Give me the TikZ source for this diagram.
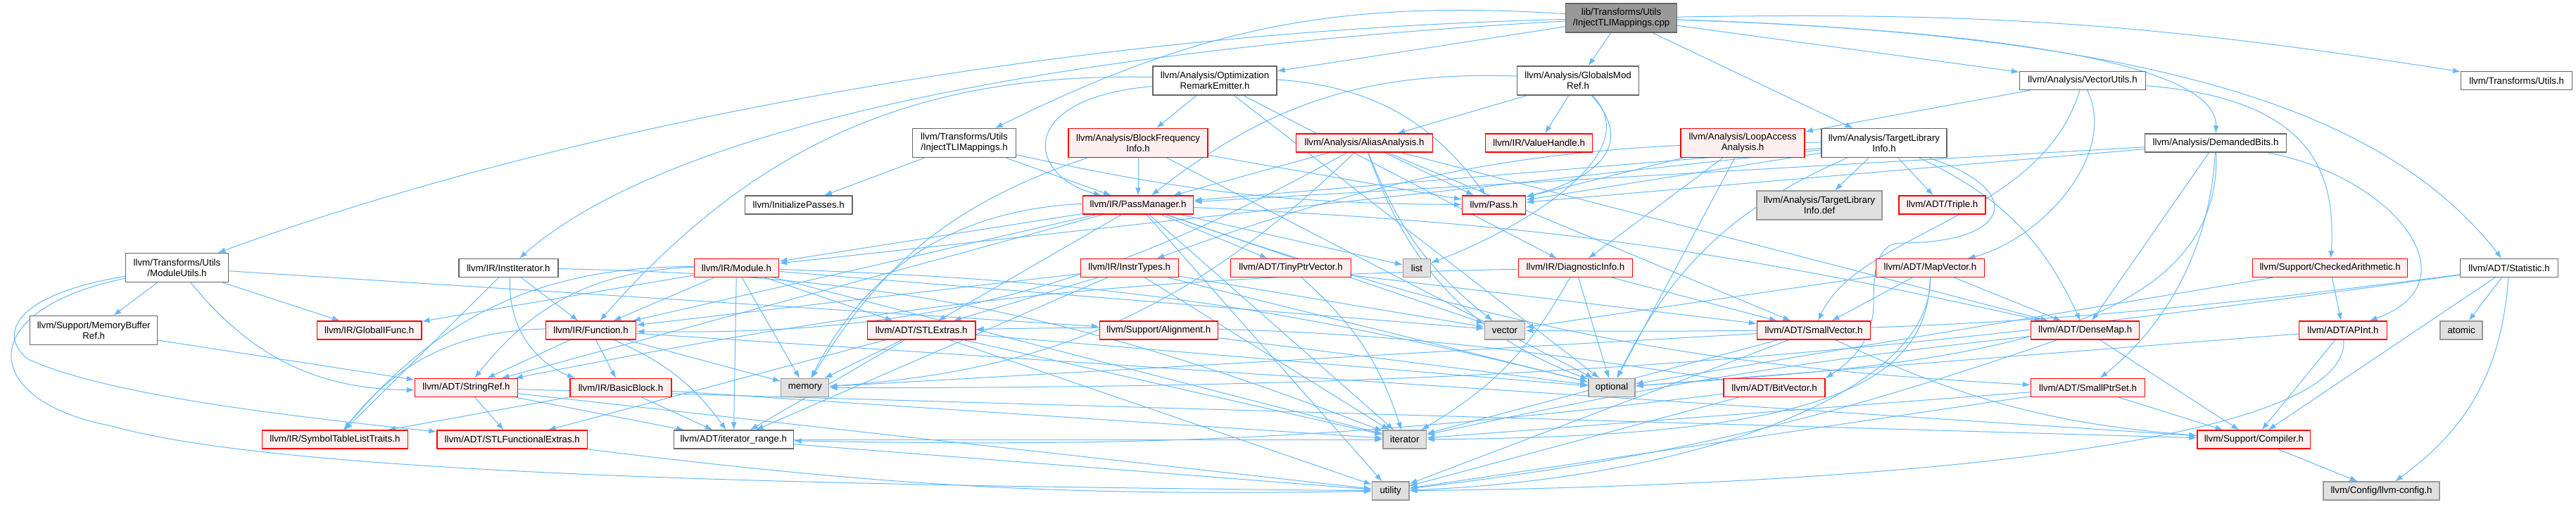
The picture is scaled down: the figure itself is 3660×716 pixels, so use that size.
\documentclass[tikz,border=0pt]{standalone}
\usepackage{fontspec}
\setmainfont{Liberation Sans}
\usetikzlibrary{arrows.meta}
\definecolor{DoxBlue}{RGB}{99,184,255}
\definecolor{DoxFrame}{RGB}{102,102,102}
\definecolor{DoxSysLine}{RGB}{153,153,153}
\definecolor{DoxSysFill}{RGB}{224,224,224}
\definecolor{DoxRedFill}{RGB}{255,240,240}
\definecolor{DoxRootFill}{RGB}{153,153,153}
\pgfdeclarelayer{bg}
\pgfsetlayers{bg,main}

\begin{document}
\begin{tikzpicture}[x=0.1pt,y=0.1pt,
  hdr/.style={draw=DoxFrame,fill=white,line width=0.12pt,inner sep=0pt,minimum height=2.6pt,
              align=center,font=\fontsize{1.33}{1.5}\selectfont},
  twoline/.style={minimum height=4.1pt},
  wd/.style={minimum width=#1*0.1pt},
  redhdr/.style={hdr,draw=red,fill=DoxRedFill},
  syshdr/.style={hdr,draw=DoxSysLine,fill=DoxSysFill},
  rootbox/.style={hdr,fill=DoxRootFill},
  dep/.style={-{Latex[length=1.1pt,width=0.8pt]},draw=DoxBlue,line width=0.1pt}
]
\useasboundingbox (0,0) rectangle (3660,-716);
% first rows
\node[rootbox,twoline,wd=157.5] (root) at (2303.5,-25.5) {lib/Transforms/Utils\\/InjectTLIMappings.cpp};
\node[hdr,twoline,wd=176] (ore) at (1726,-114.5) {llvm/Analysis/Optimization\\RemarkEmitter.h};
\node[hdr,twoline,wd=173] (gmr) at (2242,-114.5) {llvm/Analysis/GlobalsMod\\Ref.h};
\node[hdr,wd=179] (vutils) at (2959,-114.5) {llvm/Analysis/VectorUtils.h};
\node[hdr,wd=158] (tutils) at (3575.6,-114.5) {llvm/Transforms/Utils.h};
\node[hdr,twoline,wd=146.6] (injh) at (1370,-203) {llvm/Transforms/Utils\\/InjectTLIMappings.h};
\node[redhdr,twoline,wd=198] (bfi) at (1617,-203) {llvm/Analysis/BlockFrequency\\Info.h};
\node[redhdr,wd=194] (aa) at (1938.5,-203) {llvm/Analysis/AliasAnalysis.h};
\node[redhdr,wd=152] (vhandle) at (2186.6,-203) {llvm/IR/ValueHandle.h};
\node[redhdr,twoline,wd=176] (laa) at (2476,-203) {llvm/Analysis/LoopAccess\\Analysis.h};
\node[hdr,twoline,wd=178] (tli) at (2677,-203) {llvm/Analysis/TargetLibrary\\Info.h};
\node[hdr,wd=201] (dbits) at (3148,-203) {llvm/Analysis/DemandedBits.h};
\node[hdr,wd=152.5] (initp) at (1134.7,-291) {llvm/InitializePasses.h};
\node[redhdr,wd=157.5] (pm) at (1617,-291) {llvm/IR/PassManager.h};
\node[redhdr,wd=90] (pass) at (2122.5,-291) {llvm/Pass.h};
\node[syshdr,twoline,wd=178] (tlidef) at (2585,-291.5) {llvm/Analysis/TargetLibrary\\Info.def};
\node[redhdr,wd=123] (triple) at (2759.5,-291) {llvm/ADT/Triple.h};
% middle rows
\node[hdr,twoline,wd=146.6] (mutils) at (251.5,-380) {llvm/Transforms/Utils\\/ModuleUtils.h};
\node[hdr,wd=141] (institer) at (722.4,-380.5) {llvm/IR/InstIterator.h};
\node[redhdr,wd=120.6] (module) at (1046.4,-380.5) {llvm/IR/Module.h};
\node[redhdr,wd=139] (instr) at (1604.7,-380.5) {llvm/IR/InstrTypes.h};
\node[redhdr,wd=170.5] (tiny) at (1834,-380.5) {llvm/ADT/TinyPtrVector.h};
\node[syshdr,wd=39] (list) at (2013,-380.5) {list};
\node[redhdr,wd=162] (diag) at (2238.4,-380.5) {llvm/IR/DiagnosticInfo.h};
\node[redhdr,wd=153.6] (mapvec) at (2742.4,-380.5) {llvm/ADT/MapVector.h};
\node[redhdr,wd=220] (checked) at (3310.6,-380.5) {llvm/Support/CheckedArithmetic.h};
\node[hdr,wd=139] (stat) at (3565,-380.5) {llvm/ADT/Statistic.h};
\node[hdr,twoline,wd=181] (mbref) at (133.2,-469) {llvm/Support/MemoryBuffer\\Ref.h};
\node[redhdr,wd=148.6] (gifunc) at (524.7,-469) {llvm/IR/GlobalIFunc.h};
\node[redhdr,wd=128.4] (function) at (839.5,-469) {llvm/IR/Function.h};
\node[redhdr,wd=153.6] (stlextras) at (1309.2,-469) {llvm/ADT/STLExtras.h};
\node[redhdr,wd=168] (align) at (1646.3,-469) {llvm/Support/Alignment.h};
\node[syshdr,wd=57.5] (vector) at (2138,-469) {vector};
\node[redhdr,wd=161.4] (svector) at (2577,-469) {llvm/ADT/SmallVector.h};
\node[redhdr,wd=154.4] (densemap) at (2962.6,-469) {llvm/ADT/DenseMap.h};
\node[redhdr,wd=124.5] (apint) at (3328.9,-469) {llvm/ADT/APInt.h};
\node[syshdr,wd=60] (atomic) at (3497,-469) {atomic};
% bottom rows
\node[redhdr,wd=146] (stringref) at (662.5,-550.5) {llvm/ADT/StringRef.h};
\node[redhdr,wd=144] (bblock) at (882,-550.5) {llvm/IR/BasicBlock.h};
\node[syshdr,wd=68] (memory) at (1143.8,-550.5) {memory};
\node[syshdr,wd=66] (optional) at (2290,-550.5) {optional};
\node[redhdr,wd=144] (bitvec) at (2521,-550.5) {llvm/ADT/BitVector.h};
\node[redhdr,wd=162] (sptrset) at (2966.5,-550.5) {llvm/ADT/SmallPtrSet.h};
\node[redhdr,wd=207] (symtab) at (475.9,-624) {llvm/IR/SymbolTableListTraits.h};
\node[redhdr,wd=213.5] (stlfunc) at (727.7,-624) {llvm/ADT/STLFunctionalExtras.h};
\node[hdr,wd=170] (itrange) at (1042.3,-624) {llvm/ADT/iterator\_range.h};
\node[syshdr,wd=61.4] (iterator) at (1995.7,-624) {iterator};
\node[redhdr,wd=160.6] (compiler) at (3202.3,-624) {llvm/Support/Compiler.h};
\node[syshdr,wd=52.5] (utility) at (1975.7,-697) {utility};
\node[syshdr,wd=165] (llvmconfig) at (3383.5,-697) {llvm/Config/llvm-config.h};

\begin{pgfonlayer}{bg}
% includes, source/target/bend
\foreach \src/\dst/\bend in {
  root/injh/-15, root/ore/0, root/gmr/0, root/tli/0, root/vutils/0, root/tutils/5,
  injh/pm/0, injh/pass/-6, injh/initp/0,
  ore/bfi/0, ore/diag/0, ore/function/-25, ore/pass/25, ore/optional/0,
  bfi/pm/0, bfi/pass/0, bfi/memory/-20, bfi/optional/0,
  gmr/aa/0, gmr/pm/-20, gmr/vhandle/0,
  aa/densemap/0, aa/svector/0, aa/function/15, aa/pm/0, aa/pass/0, aa/memory/20, aa/optional/-25, aa/vector/-15,
  laa/diag/0, laa/pass/0, laa/optional/0,
  tli/tlidef/0, tli/triple/0, tli/densemap/20, tli/instr/-10, tli/module/0, tli/pm/0, tli/pass/0, tli/optional/-20,
  vutils/laa/0,
  dbits/densemap/0, dbits/pm/0, dbits/pass/0,
  stat/llvmconfig/25, stat/compiler/0, stat/atomic/0, stat/memory/4, stat/vector/4,
  institer/bblock/-35, institer/function/0, institer/symtab/0, institer/iterator/10,
  mutils/stringref/-25, mutils/gifunc/0, mutils/align/0, mutils/mbref/0,
  mbref/stringref/0,
  pm/densemap/5, pm/stlextras/0, pm/sptrset/-8, pm/stringref/0, pm/tiny/0, pm/function/0, pm/module/0,
  pm/iterator/0, pm/list/0, pm/memory/-30, pm/utility/0, pm/vector/0,
  module/stlextras/0, module/stringref/-25, module/itrange/0, module/function/0, module/gifunc/0,
  module/symtab/-25, module/iterator/0, module/memory/0, module/optional/6, module/vector/0,
  function/stringref/0, function/itrange/15, function/bblock/0, function/symtab/-25, function/compiler/0, function/memory/0,
  bblock/itrange/0, bblock/symtab/0, bblock/iterator/0,
  stringref/stlfunc/0, stringref/itrange/0, stringref/compiler/0, stringref/utility/0,
  stlfunc/utility/-4, itrange/iterator/0, itrange/utility/0,
  stlextras/stlfunc/0, stlextras/itrange/0, stlextras/iterator/0, stlextras/memory/0, stlextras/optional/0, stlextras/utility/0,
  align/optional/0,
  instr/stlextras/0, instr/itrange/0, instr/function/0, instr/iterator/0, instr/optional/0, instr/vector/0,
  tiny/svector/0, tiny/iterator/15,
  diag/svector/0, diag/stringref/-5, diag/iterator/15, diag/optional/0,
  mapvec/densemap/0, mapvec/svector/0, mapvec/vector/0,
  svector/compiler/-10, svector/iterator/0, svector/memory/0, svector/utility/0,
  densemap/compiler/0, densemap/iterator/-3, densemap/utility/6,
  bitvec/stlextras/-5, bitvec/itrange/4, bitvec/utility/0,
  sptrset/compiler/0, sptrset/iterator/0, sptrset/utility/0,
  checked/apint/0, checked/optional/0,
  apint/compiler/0, apint/optional/0,
  compiler/llvmconfig/0}
  \draw[dep] (\src) to[bend left=\bend] (\dst);
% the long swinging ones
\foreach \src/\dst/\px/\py/\qx/\qy in {
  root/mutils/1500/-45/800/-180, root/institer/1500/-70/950/-180,
  root/dbits/2900/-45/3150/-100, root/stat/3100/-50/3400/-170,
  ore/pm/1440/-140/1460/-250,
  gmr/pass/2320/-200/2280/-250, gmr/list/2345/-220/2150/-330,
  vutils/mapvec/3010/-220/2900/-340, vutils/svector/2900/-310/2640/-330,
  vutils/checked/3280/-140/3320/-240,
  dbits/apint/3400/-250/3520/-400, dbits/sptrset/3140/-350/3080/-460,
  dbits/optional/3160/-500/2700/-520,
  apint/utility/3340/-640/2600/-690,
  mapvec/utility/2745/-560/2400/-680, mapvec/iterator/2740/-560/2550/-620}
  \draw[dep] (\src) .. controls (\px,\py) and (\qx,\qy) .. (\dst);
\draw[dep] (mutils) .. controls (10,-420) and (0,-480) .. (40,-510)
  .. controls (150,-560) and (400,-590) .. (stlfunc);
\draw[dep] (mutils) .. controls (-40,-440) and (-30,-570) .. (160,-605)
  .. controls (420,-680) and (1300,-690) .. (utility);
\draw[dep] (tli) .. controls (2880,-270) and (2860,-345) .. (2700,-345)
  .. controls (2662,-345) and (2662,-400) .. (2662,-430)
  .. controls (2662,-490) and (2620,-520) .. (bitvec.north east);
\end{pgfonlayer}
\end{tikzpicture}
\end{document}
